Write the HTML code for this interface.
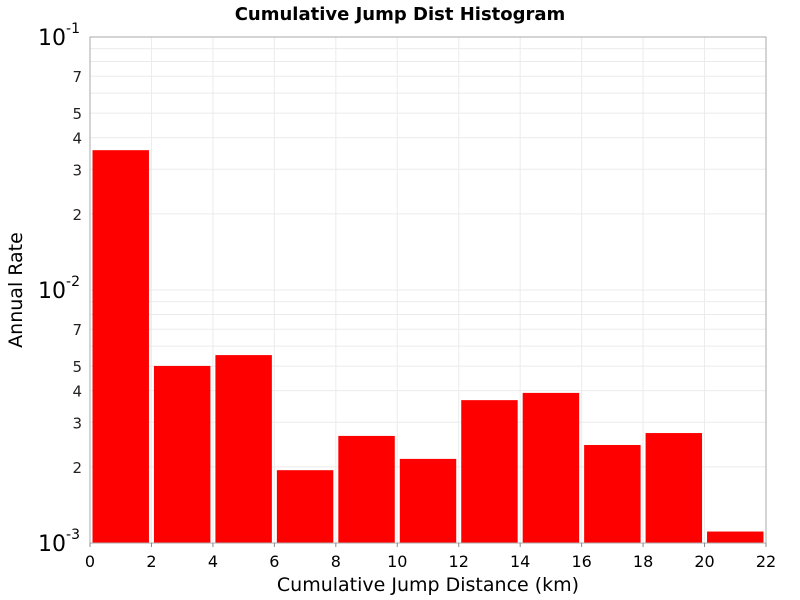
<!DOCTYPE html>
<html><head><meta charset="utf-8"><style>body{margin:0;background:#fff}svg{display:block;font-family:"DejaVu Sans","Liberation Sans",sans-serif}</style></head>
<body>
<svg id="c" width="800" height="600"></svg>
<script>
const binStarts=[0,2,4,6,8,10,12,14,16,18,20];
const binWidth=2;
const rates=[0.0357,0.00501,0.00553,0.00194,0.00265,0.00215,0.00367,0.00392,0.00244,0.00272,0.00111];
const xTicks=[0,2,4,6,8,10,12,14,16,18,20,22];
const yMinorLabels=[2,3,4,5,7];
const decades=[-3,-2,-1];

const L=90,R=766,T=37,B=543;
const NS="http://www.w3.org/2000/svg";
const svg=document.getElementById('c');
function x(v){return L+(v-0)/(22-0)*(R-L);}
function y(v){return B-(Math.log10(v)+3)/2*(B-T);}
function mk(tag,attrs,parent){const e=document.createElementNS(NS,tag);for(const k in attrs)e.setAttribute(k,attrs[k]);(parent||svg).appendChild(e);return e;}

// grid
const grid=mk('g',{});


xTicks.forEach(t=>{mk('line',{x1:x(t),x2:x(t),y1:T,y2:B,stroke:'#ebebeb'},grid);});
[-3,-2].forEach(d=>{for(let m=1;m<10;m++){const v=m*Math.pow(10,d);mk('line',{x1:L,x2:R,y1:y(v),y2:y(v),stroke:'#ebebeb'},grid);}});

// bars
const bars=mk('g',{});


binStarts.forEach((s,i)=>{
  const x0=x(s)+2.5,x1=x(s+binWidth)-2.5,yt=y(rates[i]);
  const r=mk('rect',{x:x0,y:yt,width:x1-x0,height:B-yt,fill:'#ff0000'},bars);
  
  
});

// frame
const fr=mk('rect',{x:L,y:T,width:R-L,height:B-T,fill:'none',stroke:'#aaa'});



// x ticks
const xa=mk('g',{});


xTicks.forEach(t=>{
  mk('line',{x1:x(t),x2:x(t),y1:B,y2:B+4,stroke:'#888'},xa);
  const tx=mk('text',{x:x(t),y:B+24,'text-anchor':'middle','font-size':16,fill:'#000'},xa);
  tx.textContent=t;
  
  
});
// y ticks
const ya=mk('g',{});


decades.forEach(d=>{
  const yy=y(Math.pow(10,d));
  const tx=mk('text',{x:80,y:yy+8,'text-anchor':'end','font-size':22,fill:'#000'},ya);
  tx.textContent='10';
  const sp=mk('tspan',{dy:-12,'font-size':14},tx);
  sp.textContent=String(d);
  
  
});
[-3,-2].forEach(d=>{yMinorLabels.forEach(m=>{
  const yy=y(m*Math.pow(10,d));
  const tx=mk('text',{x:82,y:yy+6,'text-anchor':'end','font-size':15,fill:'#222'},ya);
  tx.textContent=m;
  
  
});});

const ti=mk('text',{x:400,y:20,'text-anchor':'middle','font-size':18,'font-weight':'bold'});
ti.textContent='Cumulative Jump Dist Histogram';


const xt=mk('text',{x:428,y:591,'text-anchor':'middle','font-size':19});
xt.textContent='Cumulative Jump Distance (km)';


const yt=mk('text',{x:0,y:0,'text-anchor':'middle','font-size':19,transform:'translate(22,290) rotate(-90)'});
yt.textContent='Annual Rate';


</script>
</body></html>
